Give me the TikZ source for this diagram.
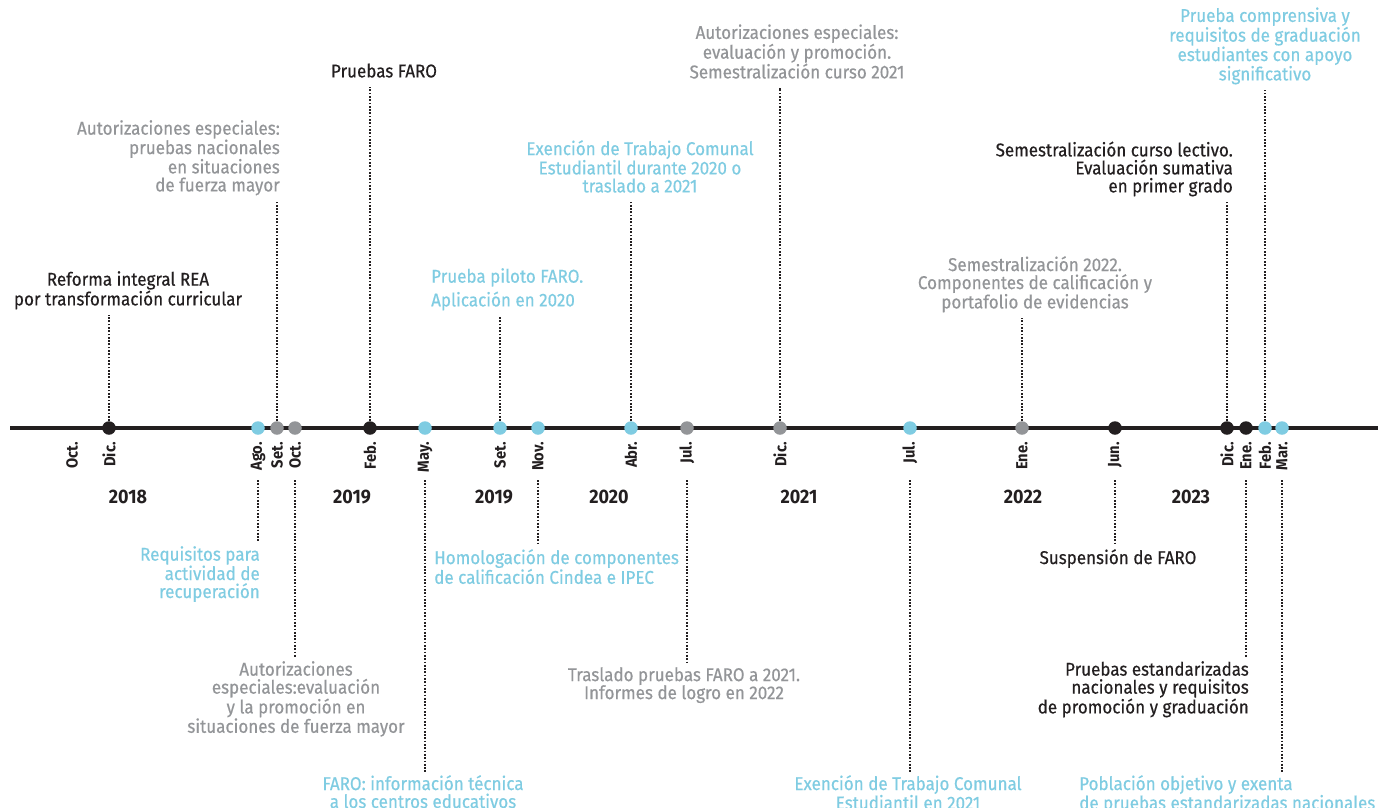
\documentclass[tikz,border=0pt]{standalone}
\usepackage{fontspec}
\setmainfont{Fira Sans}[FakeStretch=0.92]
\newfontfamily\eventfont{Fira Sans}[FakeStretch=0.92, FakeBold=0.4]
\definecolor{ink}{HTML}{231F20}
\definecolor{mute}{HTML}{939598}
\definecolor{sky}{HTML}{7FCCE2}

\begin{document}
\begin{tikzpicture}[
    x = 1pt,
    y = -1pt,
    every node/.style = {inner sep = 0pt},
    dot/.style = {circle, minimum size = 13.5pt, fill = #1},
    month/.style = {rotate = 90, anchor = east, text = ink, font = \bfseries\fontsize{16}{16}\selectfont},
    year/.style = {text = ink, font = \bfseries\fontsize{19.5}{19.5}\selectfont},
    event/.style = {align = center, text = #1, font = \eventfont\fontsize{18.5}{18}\selectfont,
      execute at begin node = \strut, execute at end node = \strut},
    link/.style = {draw = ink, line width = 1.6pt, dash pattern = on 1.7pt off 1.6pt, shorten > = 3.5pt},
    axis/.style = {draw = ink, line width = 3.2pt}
  ]
    \useasboundingbox[fill = white] (0, 0) rectangle (1378, 807);
    \coordinate (axis_start) at (10, 428);
    \coordinate (axis_end) at (1378, 428);
    \coordinate (below_start) at (0, 480);
    \draw[axis] (axis_start) -- (axis_end);

    \node[dot = ink] (dic18) at (109, 428) {};
    \node[dot = sky] (ago18) at (258, 428) {};
    \node[dot = mute] (set18) at (277, 428) {};
    \node[dot = mute] (oct18) at (295, 428) {};
    \node[dot = ink] (feb19) at (370, 428) {};
    \node[dot = sky] (may19) at (425, 428) {};
    \node[dot = sky] (set19) at (500, 428) {};
    \node[dot = sky] (nov19) at (538, 428) {};
    \node[dot = sky] (abr20) at (631, 428) {};
    \node[dot = mute] (jul20) at (687, 428) {};
    \node[dot = mute] (dic20) at (780, 428) {};
    \node[dot = sky] (jul21) at (910, 428) {};
    \node[dot = mute] (ene22) at (1022, 428) {};
    \node[dot = ink] (jun22) at (1115, 428) {};
    \node[dot = ink] (dic22) at (1227, 428) {};
    \node[dot = ink] (ene23) at (1246, 428) {};
    \node[dot = sky] (feb23) at (1265, 428) {};
    \node[dot = sky] (mar23) at (1282, 428) {};

    \node[month] (oct18_m) at (72, 442) {Oct.};
    \node[month] (dic18_m) at (109, 442) {Dic.};
    \node[month] (ago18_m) at (258, 442) {Ago.};
    \node[month] (set18_m) at (277, 442) {Set.};
    \node[month] (oct18b_m) at (295, 442) {Oct.};
    \node[month] (feb19_m) at (370, 442) {Feb.};
    \node[month] (may19_m) at (425, 442) {May.};
    \node[month] (set19_m) at (500, 442) {Set.};
    \node[month] (nov19_m) at (538, 442) {Nov.};
    \node[month] (abr20_m) at (631, 442) {Abr.};
    \node[month] (jul20_m) at (687, 442) {Jul.};
    \node[month] (dic20_m) at (780, 442) {Dic.};
    \node[month] (jul21_m) at (910, 442) {Jul.};
    \node[month] (ene22_m) at (1022, 442) {Ene.};
    \node[month] (jun22_m) at (1115, 442) {Jun.};
    \node[month] (dic22_m) at (1227, 442) {Dic.};
    \node[month] (ene23_m) at (1246, 442) {Ene.};
    \node[month] (feb23_m) at (1265, 442) {Feb.};
    \node[month] (mar23_m) at (1282, 442) {Mar.};

    \node[year] (y2018) at (128, 497) {2018};
    \node[year] (y2019) at (352, 497) {2019};
    \node[year] (y2019b) at (494, 497) {2019};
    \node[year] (y2020) at (609, 497) {2020};
    \node[year] (y2021) at (799, 497) {2021};
    \node[year] (y2022) at (1023, 497) {2022};
    \node[year] (y2023) at (1191, 497) {2023};

    \node[event = ink, anchor = south] (reforma_rea) at (128, 311) {Reforma integral REA\\por transformación curricular};
    \node[event = mute, anchor = south east, align = right] (aut_pruebas) at (280, 197) {Autorizaciones especiales:\\pruebas nacionales\\en situaciones\\de fuerza mayor};
    \node[event = ink, anchor = south] (pruebas_faro) at (384, 83) {Pruebas FARO};
    \node[event = sky, anchor = south west, align = left] (piloto_faro) at (431, 312) {Prueba piloto FARO.\\[4pt]Aplicación en 2020};
    \node[event = sky, anchor = south] (exencion_tce) at (640, 198) {Exención de Trabajo Comunal\\Estudiantil durante 2020 o\\traslado a 2021};
    \node[event = mute, anchor = south] (aut_evaluacion) at (797, 84) {Autorizaciones especiales:\\evaluación y promoción.\\Semestralización curso 2021};
    \node[event = mute, anchor = south] (semestral_2022) at (1035, 314) {Semestralización 2022.\\Componentes de calificación y\\portafolio de evidencias};
    \node[event = ink, anchor = south east, align = right] (semestral_curso) at (1233, 198) {Semestralización curso lectivo.\\Evaluación sumativa\\en primer grado};
    \node[event = sky, anchor = south] (prueba_comprensiva) at (1265, 86) {Prueba comprensiva y\\requisitos de graduación\\estudiantes con apoyo\\significativo};

    \node[event = sky, anchor = north east, align = right] (requisitos_rec) at (260, 546) {Requisitos para\\actividad de\\recuperación};
    \node[event = mute, anchor = north] (aut_promocion) at (296, 661) {Autorizaciones\\especiales:evaluación\\y la promoción en\\situaciones de fuerza mayor};
    \node[event = sky, anchor = north] (faro_info) at (423, 775) {FARO: información técnica\\a los centros educativos};
    \node[event = sky, anchor = north west, align = left] (homologacion) at (434, 549) {Homologación de componentes\\de calificación Cindea e IPEC};
    \node[event = mute, anchor = north] (traslado_faro) at (684, 667) {Traslado pruebas FARO a 2021.\\Informes de logro en 2022};
    \node[event = sky, anchor = north] (exencion_2021) at (908, 775) {Exención de Trabajo Comunal\\Estudiantil en 2021};
    \node[event = ink, anchor = north] (suspension_faro) at (1118, 549) {Suspensión de FARO};
    \node[event = ink, anchor = north east, align = right] (pruebas_estandar) at (1249, 661) {Pruebas estandarizadas\\nacionales y requisitos\\de promoción y graduación};
    \node[event = sky, anchor = north west, align = left] (poblacion) at (1079, 775) {Población objetivo y exenta\\de pruebas estandarizadas nacionales};

    \draw[link] (dic18) -- (dic18 |- reforma_rea.south);
    \draw[link] (set18) -- (set18 |- aut_pruebas.south);
    \draw[link] (feb19) -- (feb19 |- pruebas_faro.south);
    \draw[link] (set19) -- (set19 |- piloto_faro.south);
    \draw[link] (abr20) -- (abr20 |- exencion_tce.south);
    \draw[link] (dic20) -- (dic20 |- aut_evaluacion.south);
    \draw[link] (ene22) -- (ene22 |- semestral_2022.south);
    \draw[link] (dic22) -- (dic22 |- semestral_curso.south);
    \draw[link] (feb23) -- (feb23 |- prueba_comprensiva.south);

    \draw[link] (ago18 |- below_start) -- (ago18 |- requisitos_rec.north);
    \draw[link] (oct18 |- below_start) -- (oct18 |- aut_promocion.north);
    \draw[link] (may19 |- below_start) -- (may19 |- faro_info.north);
    \draw[link] (nov19 |- below_start) -- (nov19 |- homologacion.north);
    \draw[link] (jul20 |- below_start) -- (jul20 |- traslado_faro.north);
    \draw[link] (jul21 |- below_start) -- (jul21 |- exencion_2021.north);
    \draw[link] (jun22 |- below_start) -- (jun22 |- suspension_faro.north);
    \draw[link] (ene23 |- below_start) -- (ene23 |- pruebas_estandar.north);
    \draw[link] (mar23 |- below_start) -- (mar23 |- poblacion.north);
  \end{tikzpicture}
\end{document}
